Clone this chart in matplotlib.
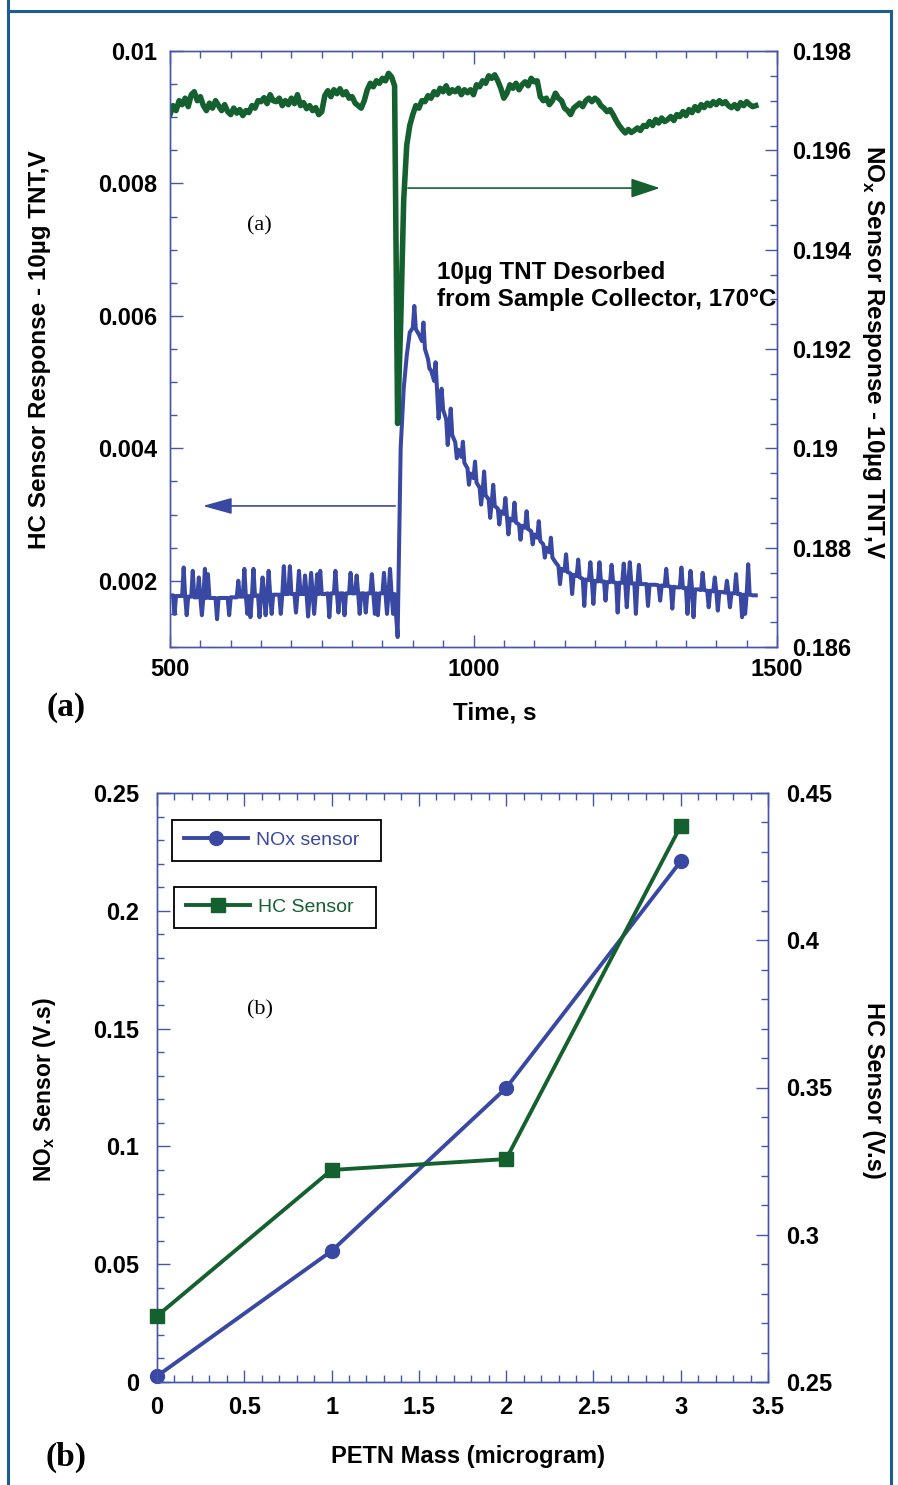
import numpy as np
import matplotlib
matplotlib.use('Agg')
import matplotlib.pyplot as plt
from matplotlib.ticker import FixedLocator, MultipleLocator, FuncFormatter
from matplotlib.lines import Line2D

plt.rcParams['font.family'] = ['Liberation Sans', 'DejaVu Sans']
plt.rcParams['font.weight'] = 'bold'
plt.rcParams['mathtext.fontset'] = 'custom'
plt.rcParams['mathtext.rm'] = 'Liberation Sans:bold'
plt.rcParams['mathtext.bf'] = 'Liberation Sans:bold'

BLUE = '#3949a3'
GREEN = '#14612f'
AXC = '#4656ab'
FRAME = '#1f5c92'

# panel (a): sensor traces, one reading every 5 s starting at 500 s
t_start, t_step = 500, 5
# HC sensor, underlying level
hc_base = [
    0.00178, 0.00178, 0.00177, 0.00177, 0.00177, 0.00176, 0.00176, 0.00176, 0.00175, 0.00175,
    0.00175, 0.00175, 0.00174, 0.00174, 0.00174, 0.00174, 0.00174, 0.00174, 0.00174, 0.00174,
    0.00175, 0.00175, 0.00175, 0.00176, 0.00176, 0.00176, 0.00177, 0.00177, 0.00177, 0.00178,
    0.00178, 0.00178, 0.00178, 0.00179, 0.00179, 0.00179, 0.00179, 0.00179, 0.00180, 0.00180,
    0.00180, 0.00180, 0.00180, 0.00180, 0.00180, 0.00180, 0.00180, 0.00180, 0.00180, 0.00180,
    0.00180, 0.00180, 0.00181, 0.00181, 0.00181, 0.00181, 0.00181, 0.00181, 0.00181, 0.00181,
    0.00181, 0.00181, 0.00181, 0.00181, 0.00181, 0.00181, 0.00181, 0.00181, 0.00181, 0.00181,
    0.00181, 0.00181, 0.00181, 0.00181, 0.00180, 0.00115, 0.00400, 0.00490, 0.00540, 0.00575,
    0.00582, 0.00580, 0.00572, 0.00562, 0.00550, 0.00535, 0.00518, 0.00502, 0.00488, 0.00473,
    0.00458, 0.00444, 0.00432, 0.00420, 0.00409, 0.00398, 0.00387, 0.00378, 0.00370, 0.00362,
    0.00355, 0.00348, 0.00341, 0.00335, 0.00329, 0.00323, 0.00318, 0.00313, 0.00309, 0.00305,
    0.00301, 0.00298, 0.00294, 0.00291, 0.00288, 0.00285, 0.00283, 0.00280, 0.00278, 0.00275,
    0.00270, 0.00265, 0.00260, 0.00255, 0.00250, 0.00243, 0.00235, 0.00228, 0.00222, 0.00218,
    0.00215, 0.00213, 0.00211, 0.00209, 0.00207, 0.00205, 0.00203, 0.00202, 0.00201, 0.00200,
    0.00200, 0.00199, 0.00199, 0.00199, 0.00198, 0.00198, 0.00198, 0.00197, 0.00197, 0.00197,
    0.00196, 0.00196, 0.00196, 0.00196, 0.00195, 0.00195, 0.00195, 0.00195, 0.00194, 0.00194,
    0.00194, 0.00193, 0.00193, 0.00192, 0.00192, 0.00191, 0.00191, 0.00190, 0.00190, 0.00189,
    0.00189, 0.00188, 0.00188, 0.00187, 0.00187, 0.00186, 0.00186, 0.00185, 0.00185, 0.00184,
    0.00184, 0.00183, 0.00183, 0.00182, 0.00182, 0.00181, 0.00181, 0.00180, 0.00180, 0.00179,
    0.00179, 0.00179, 0.00178, 0.00178,
]
# HC sensor, single-reading noise spikes (time s, value V)
hc_spike_t = [
    507.5, 522.5, 527.5, 537.5, 547.5, 552.5, 557.5, 562.5, 577.5, 597.5,
    612.5, 622.5, 627.5, 632.5, 637.5, 647.5, 652.5, 657.5, 662.5, 667.5,
    682.5, 687.5, 697.5, 707.5, 712.5, 722.5, 727.5, 732.5, 737.5, 742.5,
    747.5, 762.5, 772.5, 777.5, 787.5, 797.5, 807.5, 812.5, 822.5, 832.5,
    837.5, 842.5, 852.5, 857.5, 862.5, 867.5,
    902.5, 917.5, 927.5, 937.5, 942.5, 947.5, 957.5, 962.5, 972.5, 982.5,
    992.5, 1002.5, 1012.5, 1017.5, 1027.5, 1032.5, 1042.5, 1052.5, 1057.5, 1067.5,
    1077.5, 1087.5, 1097.5, 1107.5, 1117.5, 1127.5, 1142.5, 1152.5, 1162.5, 1172.5,
    1182.5, 1192.5, 1197.5, 1207.5, 1217.5, 1227.5, 1237.5, 1247.5, 1252.5, 1257.5,
    1267.5, 1272.5, 1287.5, 1307.5, 1317.5, 1327.5, 1342.5, 1352.5, 1357.5, 1362.5,
    1377.5, 1387.5, 1397.5, 1402.5, 1417.5, 1422.5, 1432.5, 1442.5, 1447.5, 1452.5,
]
hc_spike_v = [
    0.00150, 0.00220, 0.00148, 0.00215, 0.00205, 0.00148, 0.00218, 0.00210, 0.00142, 0.00148,
    0.00200, 0.00218, 0.00150, 0.00145, 0.00218, 0.00145, 0.00205, 0.00148, 0.00215, 0.00150,
    0.00150, 0.00222, 0.00222, 0.00152, 0.00215, 0.00208, 0.00146, 0.00212, 0.00150, 0.00210,
    0.00215, 0.00145, 0.00215, 0.00152, 0.00148, 0.00212, 0.00208, 0.00150, 0.00152, 0.00210,
    0.00150, 0.00148, 0.00212, 0.00150, 0.00218, 0.00150,
    0.00615, 0.00590, 0.00520, 0.00530, 0.00445, 0.00490, 0.00405, 0.00460, 0.00385, 0.00410,
    0.00345, 0.00380, 0.00315, 0.00365, 0.00295, 0.00345, 0.00285, 0.00325, 0.00270, 0.00318,
    0.00262, 0.00305, 0.00255, 0.00290, 0.00235, 0.00265, 0.00195, 0.00240, 0.00180, 0.00232,
    0.00162, 0.00228, 0.00165, 0.00228, 0.00170, 0.00224, 0.00152, 0.00226, 0.00160, 0.00228,
    0.00150, 0.00224, 0.00162, 0.00170, 0.00218, 0.00158, 0.00220, 0.00150, 0.00215, 0.00145,
    0.00212, 0.00160, 0.00205, 0.00155, 0.00200, 0.00160, 0.00210, 0.00145, 0.00150, 0.00225,
]
nox_tnt = [
    0.19672, 0.19690, 0.19680, 0.19700, 0.19692, 0.19705, 0.19688, 0.19712, 0.19718, 0.19700,
    0.19708, 0.19690, 0.19680, 0.19695, 0.19685, 0.19700, 0.19690, 0.19680, 0.19692, 0.19678,
    0.19672, 0.19685, 0.19675, 0.19682, 0.19670, 0.19680, 0.19676, 0.19690, 0.19685, 0.19700,
    0.19698, 0.19706, 0.19694, 0.19712, 0.19700, 0.19698, 0.19705, 0.19690, 0.19700, 0.19692,
    0.19705, 0.19694, 0.19712, 0.19690, 0.19696, 0.19684, 0.19690, 0.19680, 0.19686, 0.19672,
    0.19678, 0.19710, 0.19720, 0.19708, 0.19722, 0.19714, 0.19724, 0.19712, 0.19718, 0.19705,
    0.19708, 0.19695, 0.19690, 0.19685, 0.19700, 0.19722, 0.19735, 0.19728, 0.19740, 0.19735,
    0.19745, 0.19740, 0.19755, 0.19748, 0.19730, 0.19050, 0.19250, 0.19500, 0.19610, 0.19650,
    0.19672, 0.19690, 0.19685, 0.19700, 0.19698, 0.19710, 0.19705, 0.19718, 0.19712, 0.19725,
    0.19718, 0.19730, 0.19715, 0.19722, 0.19718, 0.19725, 0.19712, 0.19722, 0.19716, 0.19722,
    0.19712, 0.19732, 0.19728, 0.19740, 0.19735, 0.19750, 0.19745, 0.19752, 0.19740, 0.19725,
    0.19705, 0.19715, 0.19732, 0.19725, 0.19735, 0.19722, 0.19732, 0.19738, 0.19730, 0.19745,
    0.19738, 0.19740, 0.19708, 0.19700, 0.19705, 0.19692, 0.19700, 0.19715, 0.19705, 0.19700,
    0.19685, 0.19680, 0.19672, 0.19685, 0.19690, 0.19695, 0.19688, 0.19700, 0.19705, 0.19698,
    0.19705, 0.19700, 0.19690, 0.19685, 0.19678, 0.19682, 0.19672, 0.19660, 0.19650, 0.19642,
    0.19635, 0.19642, 0.19636, 0.19640, 0.19645, 0.19640, 0.19650, 0.19648, 0.19658, 0.19650,
    0.19662, 0.19655, 0.19665, 0.19658, 0.19662, 0.19668, 0.19660, 0.19672, 0.19668, 0.19678,
    0.19670, 0.19682, 0.19676, 0.19688, 0.19680, 0.19692, 0.19686, 0.19695, 0.19690, 0.19698,
    0.19692, 0.19700, 0.19694, 0.19698, 0.19690, 0.19686, 0.19692, 0.19684, 0.19696, 0.19690,
    0.19698, 0.19692, 0.19688, 0.19690,
]

# panel (b): integrated responses vs PETN mass
petn_mass = [0, 1, 2, 3]
nox_area = [0.0025, 0.0556, 0.1248, 0.2210]
hc_area = [0.2724, 0.3220, 0.3257, 0.4388]

fmt = FuncFormatter(lambda v, p: f'{v:.4g}')
W, H = 898, 1485
TICK_FS = 17
LAB_FS = 17


def style(ax, ylocs, yminor, side, pad):
    for sp in ax.spines.values():
        sp.set_color(AXC)
        sp.set_linewidth(1.0)
    ax.yaxis.set_major_locator(FixedLocator(ylocs))
    ax.yaxis.set_minor_locator(MultipleLocator(yminor))
    ax.yaxis.set_major_formatter(fmt)
    kw = dict(left=(side == 'left'), right=(side == 'right'),
              labelleft=(side == 'left'), labelright=(side == 'right'))
    ax.tick_params(axis='y', which='both', direction='in', color=AXC, **kw)
    ax.tick_params(axis='y', which='major', length=9, width=1, labelsize=TICK_FS, pad=pad)
    ax.tick_params(axis='y', which='minor', length=5, width=1)


def style_x(ax, major, minor, pad):
    ax.xaxis.set_major_locator(MultipleLocator(major))
    ax.xaxis.set_minor_locator(MultipleLocator(minor))
    ax.xaxis.set_major_formatter(fmt)
    ax.tick_params(axis='x', which='both', direction='in', top=True, color=AXC)
    ax.tick_params(axis='x', which='major', length=9, width=1, labelsize=TICK_FS, pad=pad)
    ax.tick_params(axis='x', which='minor', length=5, width=1)


fig = plt.figure(figsize=(W / 100, H / 100), dpi=100)

# ---- panel (a)
ax1 = fig.add_axes([170 / W, 1 - 647 / H, 607 / W, 596 / H])
ax1r = ax1.twinx()
t = t_start + t_step * np.arange(len(hc_base))
t_hc = np.concatenate([t, hc_spike_t])
v_hc = np.concatenate([hc_base, hc_spike_v])
order = np.argsort(t_hc)
ax1.plot(t_hc[order], v_hc[order], color=BLUE, lw=2.9)
ax1r.plot(t, nox_tnt, color=GREEN, lw=4.0)
ax1.set_xlim(500, 1500)
ax1.set_ylim(0.001, 0.01)
ax1r.set_ylim(0.186, 0.198)
style(ax1, [0.002, 0.004, 0.006, 0.008, 0.01], 0.0005, 'left', 9)
style(ax1r, [0.186, 0.188, 0.19, 0.192, 0.194, 0.196, 0.198], 0.0005, 'right', 11)
style_x(ax1, 500, 50, 8)

ax1.annotate('', xy=(554, 0.00313), xytext=(871, 0.00313),
             arrowprops=dict(arrowstyle='-|>,head_length=0.9,head_width=0.25',
                             color=BLUE, lw=1.2, mutation_scale=20, shrinkA=0, shrinkB=0))
ax1r.annotate('', xy=(1307, 0.19524), xytext=(892, 0.19524),
              arrowprops=dict(arrowstyle='-|>,head_length=0.9,head_width=0.3',
                              color=GREEN, lw=1.2, mutation_scale=20, shrinkA=0, shrinkB=0))
ax1.text(648, 0.00736, '(a)', family='Liberation Serif', weight='normal', size=16,
         ha='center', va='center')
ax1.text(940, 0.00645, '10µg TNT Desorbed\nfrom Sample Collector, 170°C',
         ha='left', va='center', size=17.5, linespacing=1.2)

fig.text(40 / W, 1 - 350 / H, 'HC Sensor Response - 10µg TNT,V', rotation=90,
         ha='center', va='center', size=LAB_FS + 0.5)
fig.text(873 / W, 1 - 352 / H, r'NO$_{\mathbf{x}}$ Sensor Response - 10µg TNT,V',
         rotation=270, ha='center', va='center', size=LAB_FS + 0.5)
fig.text(495 / W, 1 - 713 / H, 'Time, s', ha='center', va='center', size=LAB_FS + 0.5)
fig.text(66 / W, 1 - 708 / H, '(a)', family='Liberation Serif', size=24,
         ha='center', va='center')

# ---- panel (b)
ax2 = fig.add_axes([157 / W, 1 - 1382 / H, 611 / W, 589 / H])
ax2r = ax2.twinx()
ax2.plot(petn_mass, nox_area, color=BLUE, lw=2.8, marker='o', ms=10, clip_on=False, zorder=5)
ax2r.plot(petn_mass, hc_area, color=GREEN, lw=2.8, marker='s', ms=10.5, clip_on=False, zorder=5)
ax2.set_xlim(0, 3.5)
ax2.set_ylim(0, 0.25)
ax2r.set_ylim(0.25, 0.45)
style(ax2, [0, 0.05, 0.1, 0.15, 0.2, 0.25], 0.01, 'left', 13)
style(ax2r, [0.25, 0.3, 0.35, 0.4, 0.45], 0.01, 'right', 13)
style_x(ax2, 0.5, 0.1, 10)
ax2.text(0.59, 0.158, '(b)', family='Liberation Serif', weight='normal', size=16,
         ha='center', va='center')

leg_kw = dict(loc='upper left', borderaxespad=0, fancybox=False, framealpha=1,
              edgecolor='black', borderpad=0.6, handlelength=3.3, handletextpad=0.4,
              prop={'weight': 'normal', 'size': 14})
h1 = Line2D([], [], color=BLUE, lw=2.8, marker='o', ms=10)
h2 = Line2D([], [], color=GREEN, lw=2.8, marker='s', ms=10.5)
leg1 = fig.legend([h1], ['NOx sensor  '], bbox_to_anchor=(172 / W, 1 - 820 / H),
                  labelcolor=BLUE, **leg_kw)
leg2 = fig.legend([h2], ['HC Sensor  '], bbox_to_anchor=(174 / W, 1 - 887 / H),
                  labelcolor=GREEN, **leg_kw)
for lg in (leg1, leg2):
    lg.get_frame().set_linewidth(1.3)

fig.text(45 / W, 1 - 1090 / H, r'NO$_{\mathbf{x}}$ Sensor (V.s)', rotation=90,
         ha='center', va='center', size=LAB_FS - 0.5)
fig.text(873 / W, 1 - 1090 / H, 'HC Sensor (V.s)', rotation=270,
         ha='center', va='center', size=LAB_FS)
fig.text(468 / W, 1 - 1457 / H, 'PETN Mass (microgram)', ha='center', va='center', size=LAB_FS)
fig.text(66 / W, 1 - 1457 / H, '(b)', family='Liberation Serif', size=24,
         ha='center', va='center')

# outer frame
for xs, ys in [([8, 8], [0, 1485]), ([8, 891], [11, 11]), ([891, 891], [11, 1485])]:
    fig.add_artist(Line2D([x / W for x in xs], [1 - y / H for y in ys],
                          transform=fig.transFigure, color=FRAME, lw=2.2))

fig.savefig('out.png', dpi=100)
